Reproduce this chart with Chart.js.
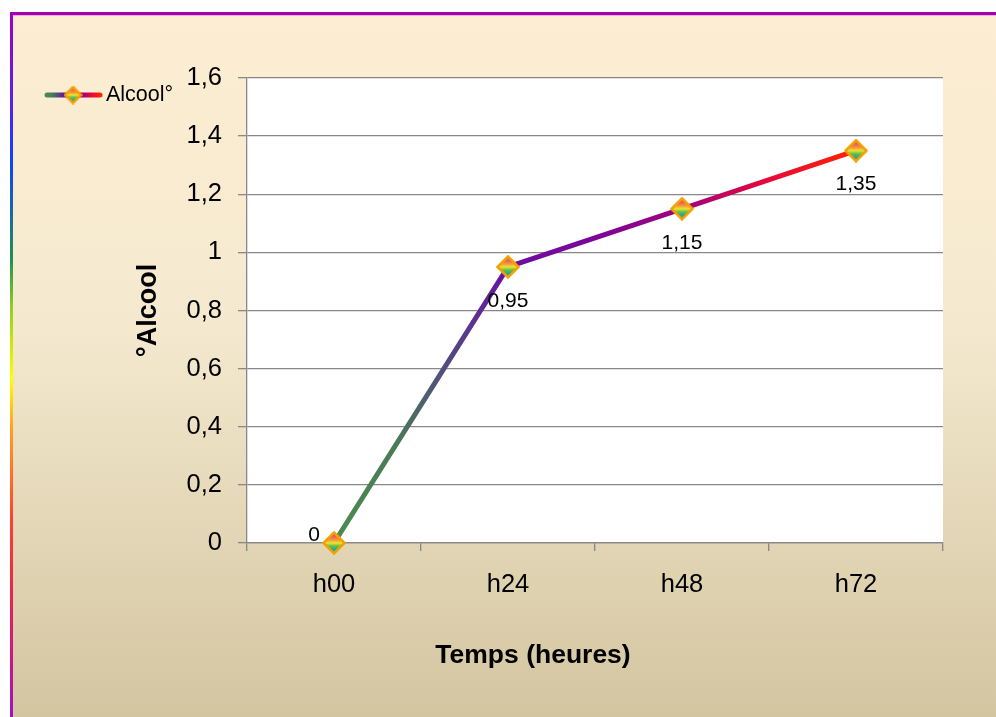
<!DOCTYPE html>
<html>
<head>
<meta charset="utf-8">
<script src="https://cdn.jsdelivr.net/npm/chart.js@4.4.1/dist/chart.umd.min.js"></script>
<style>
  html, body { margin: 0; padding: 0; background: #fff; overflow: hidden; }
  #wrap { width: 996px; height: 717px; }
</style>
</head>
<body>
<div id="wrap"><canvas id="chart" width="996" height="717"></canvas></div>
<script>
"use strict";

const categories = ["h00", "h24", "h48", "h72"];
const alcool = [0, 0.95, 1.15, 1.35];
const yTickLabels = ["0", "0,2", "0,4", "0,6", "0,8", "1", "1,2", "1,4", "1,6"];
const seriesName = "Alcool°";
const xTitle = "Temps (heures)";
const yTitle = "°Alcool";

const FONT = '"Liberation Sans", Arial, sans-serif';
const gridColor = "#888888";

// green -> purple -> magenta -> red, like the original line
function lineGradient(ctx, x0, x1) {
  const grad = ctx.createLinearGradient(x0, 0, x1, 0);
  grad.addColorStop(0, "#4c8a50");
  grad.addColorStop(0.12, "#4a7a56");
  grad.addColorStop(0.22, "#524a82");
  grad.addColorStop(0.33, "#6a10a2");
  grad.addColorStop(0.5, "#7c0598");
  grad.addColorStop(0.67, "#a0007c");
  grad.addColorStop(0.83, "#e8083c");
  grad.addColorStop(1, "#ff2400");
  return grad;
}

function makeMarker(size) {
  const c = document.createElement("canvas");
  c.width = size;
  c.height = size;
  const g = c.getContext("2d");
  const h = size / 2;
  const r = h - 1.5;
  const grad = g.createLinearGradient(0, h - r, 0, h + r);
  grad.addColorStop(0.2, "#f05a64");
  grad.addColorStop(0.38, "#f7a23a");
  grad.addColorStop(0.5, "#e8e830");
  grad.addColorStop(0.64, "#6cc040");
  grad.addColorStop(0.8, "#20a8a0");
  g.beginPath();
  g.moveTo(h, h - r);
  g.lineTo(h + r, h);
  g.lineTo(h, h + r);
  g.lineTo(h - r, h);
  g.closePath();
  g.fillStyle = grad;
  g.fill();
  g.lineWidth = 2.5;
  g.strokeStyle = "#f2a200";
  g.stroke();
  return c;
}

const marker = makeMarker(24);
const legendMarker = makeMarker(19);

function fmt(v) {
  return String(v).replace(".", ",");
}

const decor = {
  id: "decor",
  beforeDraw(chart) {
    const { ctx, width, height, chartArea } = chart;
    ctx.save();
    ctx.fillStyle = "#fff";
    ctx.fillRect(0, 0, width, height);

    const bg = ctx.createLinearGradient(0, 12, 0, height);
    bg.addColorStop(0, "#fdeed3");
    bg.addColorStop(0.45, "#f4e9cf");
    bg.addColorStop(1, "#d3c5a0");
    ctx.fillStyle = bg;
    ctx.fillRect(10, 12, width - 10, height - 12);

    ctx.fillStyle = "#a000b4";
    ctx.fillRect(10, 12, width - 10, 3);
    ctx.fillStyle = "#eab0d8";
    ctx.fillRect(13, 15, width - 13, 1);

    const side = ctx.createLinearGradient(0, 12, 0, height);
    side.addColorStop(0, "#a000c0");
    side.addColorStop(0.125, "#5a20f0");
    side.addColorStop(0.21, "#1040ff");
    side.addColorStop(0.35, "#209050");
    side.addColorStop(0.42, "#90d020");
    side.addColorStop(0.52, "#ffff00");
    side.addColorStop(0.59, "#ffa020");
    side.addColorStop(0.72, "#ff4030");
    side.addColorStop(0.83, "#f02050");
    side.addColorStop(1, "#a010c0");
    ctx.fillStyle = side;
    ctx.fillRect(10, 12, 3, height - 12);

    ctx.fillStyle = "#fff";
    ctx.fillRect(chartArea.left, chartArea.top,
      chartArea.right - chartArea.left, chartArea.bottom - chartArea.top);
    ctx.restore();
  },
  afterDatasetsDraw(chart) {
    const { ctx, chartArea } = chart;
    const meta = chart.getDatasetMeta(0);
    ctx.save();
    ctx.fillStyle = "#000";
    ctx.font = "21px " + FONT;
    ctx.textBaseline = "middle";
    ctx.textAlign = "center";
    meta.data.forEach((pt, i) => {
      const text = fmt(alcool[i]);
      if (pt.y + 34 > chartArea.bottom) {
        // no room below the point: put it to the upper left
        ctx.fillText(text, pt.x - 20, pt.y - 8);
      } else {
        ctx.fillText(text, pt.x, pt.y + 34);
      }
    });
    ctx.restore();
  },
  afterDraw(chart) {
    const { ctx } = chart;
    ctx.save();
    // legend
    ctx.lineWidth = 5;
    ctx.lineCap = "round";
    ctx.strokeStyle = lineGradient(ctx, 46, 101);
    ctx.beginPath();
    ctx.moveTo(47, 95);
    ctx.lineTo(100, 95);
    ctx.stroke();
    ctx.drawImage(legendMarker, 73 - legendMarker.width / 2, 95 - legendMarker.height / 2);
    ctx.fillStyle = "#000";
    ctx.font = "21.5px " + FONT;
    ctx.textBaseline = "middle";
    ctx.textAlign = "left";
    ctx.fillText(seriesName, 106, 95);

    // x axis title
    ctx.font = "bold 26.5px " + FONT;
    ctx.textAlign = "center";
    ctx.textBaseline = "alphabetic";
    ctx.fillText(xTitle, 533, 663);
    ctx.restore();
  }
};

new Chart(document.getElementById("chart"), {
  type: "line",
  data: {
    labels: categories,
    datasets: [
      {
        label: seriesName,
        data: alcool,
        borderWidth: 5,
        tension: 0,
        fill: false,
        clip: false,
        borderColor(context) {
          const chart = context.chart;
          if (!chart.chartArea) return "#6a10a2";
          const xs = chart.scales.x;
          return lineGradient(chart.ctx, xs.getPixelForValue(0),
            xs.getPixelForValue(categories.length - 1));
        },
        pointStyle: marker,
        pointRadius: 12,
      },
    ],
  },
  options: {
    responsive: false,
    animation: false,
    events: [],
    layout: { padding: { top: 78, right: 53, left: 0, bottom: 0 } },
    plugins: {
      legend: { display: false },
      tooltip: { enabled: false },
    },
    scales: {
      x: {
        offset: true,
        grid: {
          display: true,
          drawOnChartArea: false,
          drawTicks: true,
          offset: true,
          tickLength: 8,
          color: gridColor,
          lineWidth: 1.3,
        },
        border: { display: true, color: gridColor, width: 1.3 },
        ticks: {
          color: "#000",
          font: { family: FONT, size: 25.5 },
          padding: 19,
          maxRotation: 0,
        },
        afterFit(scale) {
          scale.height = 174;
        },
      },
      y: {
        min: 0,
        max: 1.6,
        ticks: {
          stepSize: 0.2,
          color: "#000",
          font: { family: FONT, size: 25.5 },
          padding: 16,
          callback: (value, index) => yTickLabels[index],
        },
        grid: {
          color: gridColor,
          lineWidth: 1.3,
          tickLength: 9,
          drawTicks: true,
        },
        border: { display: true, color: gridColor, width: 1.3 },
        title: {
          display: true,
          text: yTitle,
          color: "#000",
          font: { family: FONT, size: 27, weight: "bold" },
          padding: { top: 132, bottom: 0 },
        },
        afterFit(scale) {
          scale.width = 247;
        },
      },
    },
  },
  plugins: [decor],
});
</script>
</body>
</html>
